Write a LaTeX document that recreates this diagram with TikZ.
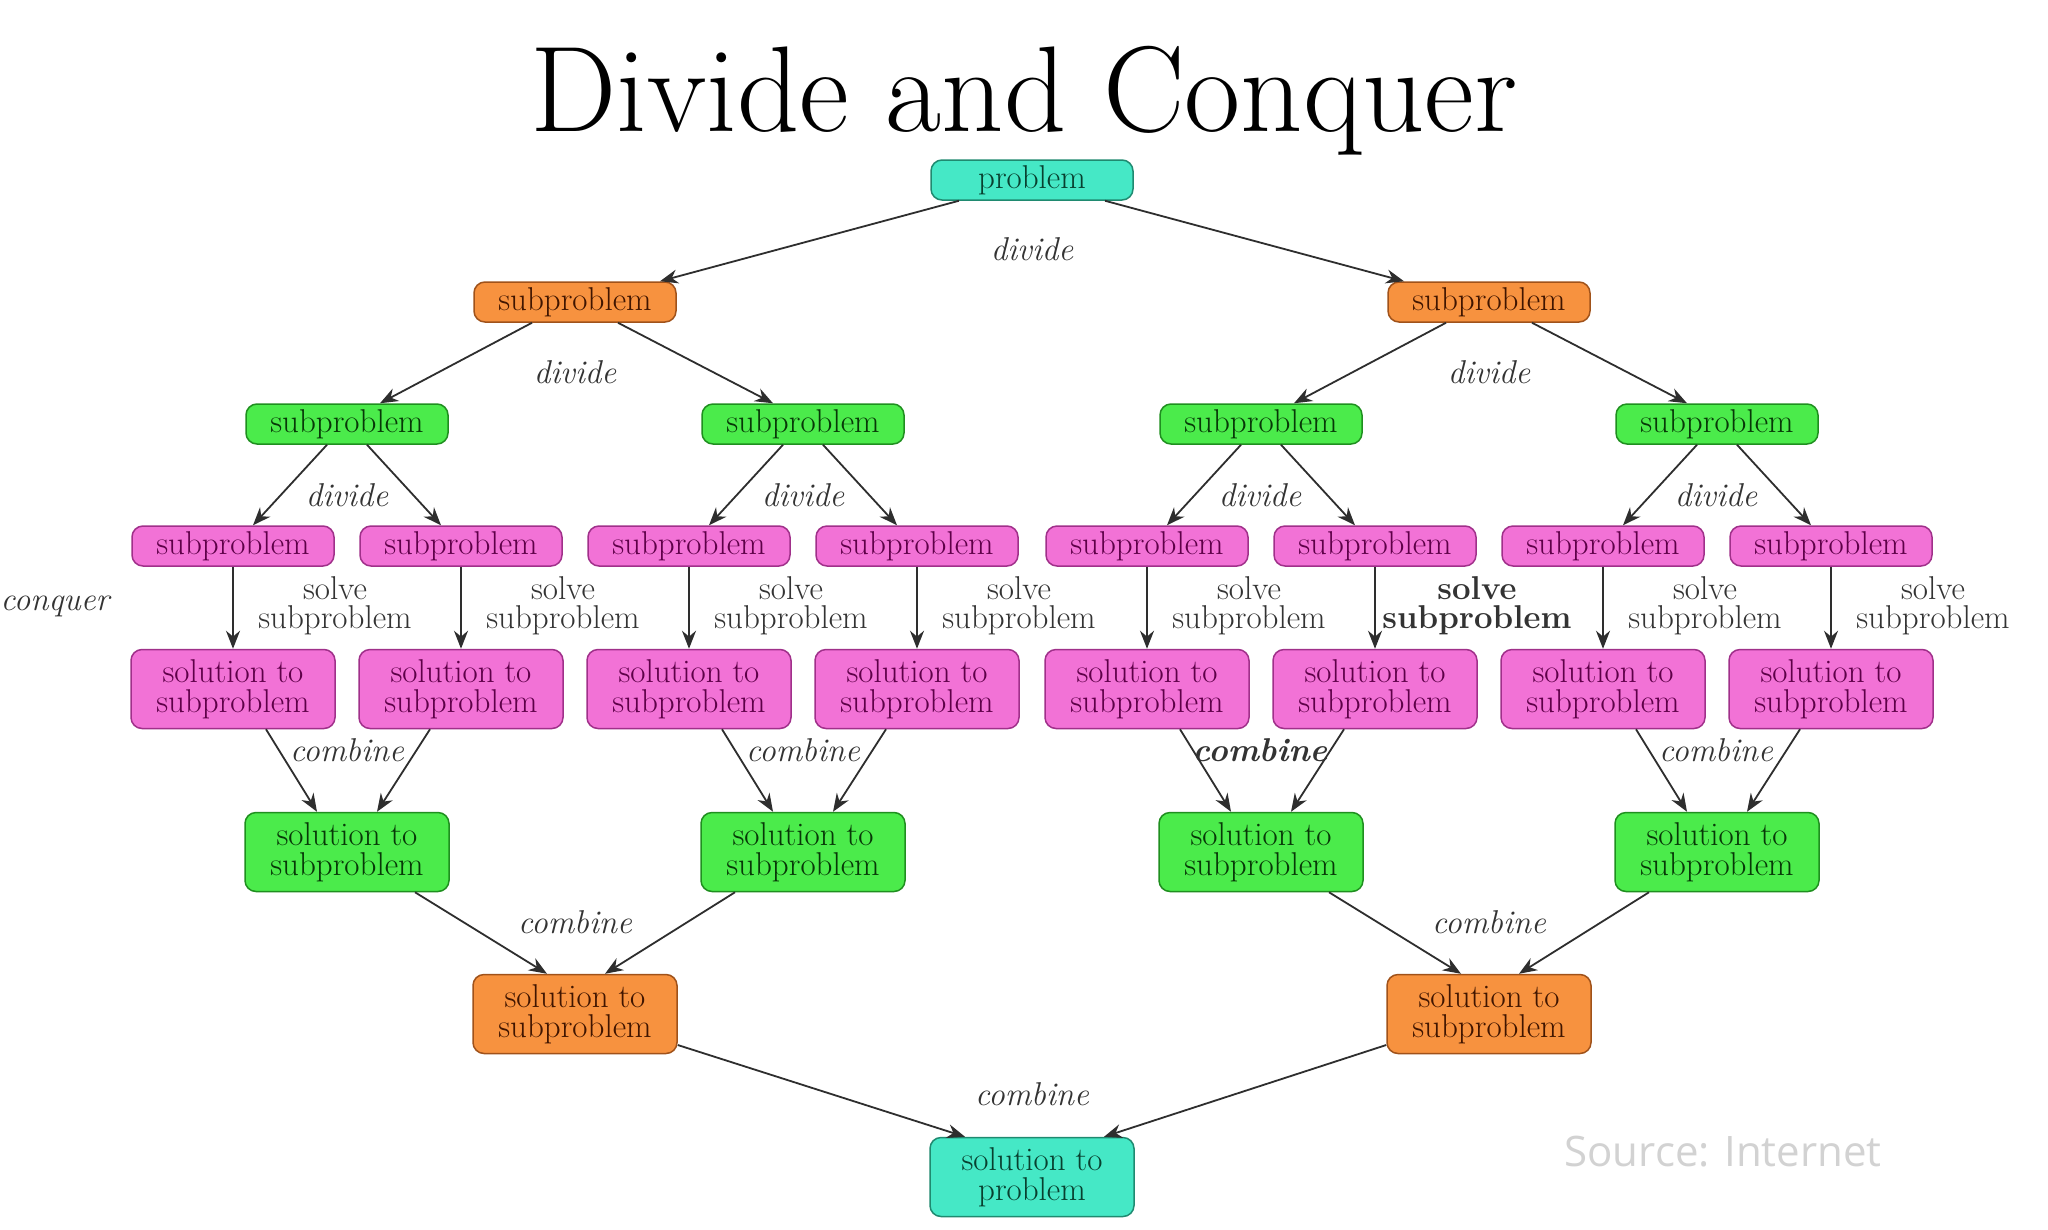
\documentclass[tikz,border=0pt]{standalone}
\usepackage{fontspec}
\newfontfamily\srcfont{Open Sans}
\usetikzlibrary{arrows.meta,calc}
\definecolor{tealF}{HTML}{45E8C6}
\definecolor{tealD}{HTML}{1F8A70}
\definecolor{tealT}{HTML}{08402F}
\definecolor{orgF}{HTML}{F7923F}
\definecolor{orgD}{HTML}{A0521A}
\definecolor{orgT}{HTML}{401500}
\definecolor{grnF}{HTML}{4BEB4B}
\definecolor{grnD}{HTML}{1F8F1F}
\definecolor{grnT}{HTML}{073807}
\definecolor{pnkF}{HTML}{F272D6}
\definecolor{pnkD}{HTML}{A0308A}
\definecolor{pnkT}{HTML}{5E0048}
\definecolor{arrC}{HTML}{2E2E2E}
\definecolor{labC}{HTML}{333333}
\definecolor{srcC}{HTML}{D2D2D2}
\begin{document}
\begin{tikzpicture}[x=1pt,y=-1pt,
  box/.style={draw, rounded corners=11pt, line width=1.5pt, align=center, inner sep=0pt,
    font=\fontsize{33}{30}\selectfont\addfontfeature{FakeBold=0.4}},
  one/.style={box, minimum width=202pt, minimum height=40pt},
  two/.style={box, minimum width=204pt, minimum height=79pt},
  tealbox/.style={fill=tealF, draw=tealD, text=tealT},
  orgbox/.style={fill=orgF, draw=orgD, text=orgT},
  grnbox/.style={fill=grnF, draw=grnD, text=grnT},
  pnkbox/.style={fill=pnkF, draw=pnkD, text=pnkT},
  arr/.style={draw=arrC, line width=1.8pt, -{Stealth[length=18pt,width=14pt]}},
  lab/.style={text=labC, font=\fontsize{33}{30}\selectfont\itshape},
  solvelab/.style={text=labC, align=center, font=\fontsize{33}{29}\selectfont}]
\useasboundingbox (0,0) rectangle (2048,1229);
\fill[white] (0,0) rectangle (2048,1229);

\node[anchor=base, font=\fontsize{122}{126}\selectfont\addfontfeature{FakeBold=0.3}] (title) at (1024,131) {Divide and Conquer};

% nodes
\node[one,tealbox] (p0) at (1032,180) {problem};
\node[one,orgbox] (o1) at (575,302) {subproblem};
\node[one,orgbox] (o2) at (1489,302) {subproblem};
\foreach \i/\x in {1/347,2/803,3/1261,4/1717}{
  \node[one,grnbox] (g\i) at (\x,424) {subproblem};
  \node[two,grnbox] (h\i) at (\x,852) {solution to\\subproblem};
}
\foreach \i/\x in {1/233,2/461,3/689,4/917,5/1147,6/1375,7/1603,8/1831}{
  \node[one,pnkbox] (k\i) at (\x,546) {subproblem};
  \node[two,pnkbox] (s\i) at (\x,689) {solution to\\subproblem};
}
\node[two,orgbox] (q1) at (575,1014) {solution to\\subproblem};
\node[two,orgbox] (q2) at (1489,1014) {solution to\\subproblem};
\node[two,tealbox] (f) at (1032,1177) {solution to\\problem};

% divide edges
\draw[arr] ($(p0.south)+(-73,0)$) -- ($(o1.north)+(85,0)$);
\draw[arr] ($(p0.south)+(73,0)$) -- ($(o2.north)+(-85,0)$);
\foreach \o/\a/\b in {o1/g1/g2, o2/g3/g4}{
  \draw[arr] ($(\o.south)+(-43,0)$) -- ($(\a.north)+(33,0)$);
  \draw[arr] ($(\o.south)+(43,0)$) -- ($(\b.north)+(-30,0)$);
}
\foreach \g/\a/\b in {g1/k1/k2, g2/k3/k4, g3/k5/k6, g4/k7/k8}{
  \draw[arr] ($(\g.south)+(-20,0)$) -- ($(\a.north)+(20,0)$);
  \draw[arr] ($(\g.south)+(20,0)$) -- ($(\b.north)+(-20,0)$);
}
% solve edges
\foreach \i in {1,...,8}{
  \draw[arr] (k\i.south) -- (s\i.north);
}
% combine edges
\foreach \h/\a/\b in {h1/s1/s2, h2/s3/s4, h3/s5/s6, h4/s7/s8}{
  \draw[arr] ($(\a.south)+(33,0)$) -- ($(\h.north)+(-30,0)$);
  \draw[arr] ($(\b.south)+(-31,0)$) -- ($(\h.north)+(30,0)$);
}
\foreach \q/\a/\b in {q1/h1/h2, q2/h3/h4}{
  \draw[arr] ($(\a.south)+(68,0)$) -- ($(\q.north)+(-28,0)$);
  \draw[arr] ($(\b.south)+(-68,0)$) -- ($(\q.north)+(30,0)$);
}
\draw[arr] ($(q1.east)+(0,31)$) -- ($(f.north)+(-67,0)$);
\draw[arr] ($(q2.west)+(0,31)$) -- ($(f.north)+(72,0)$);

% labels
\node[lab] (dv0) at (1032,249) {divide};
\node[lab] (dv1) at (575,372) {divide};
\node[lab] (dv2) at (1489,372) {divide};
\foreach \i/\x in {1/347,2/803,3/1260,4/1716}{
  \node[lab] (dd\i) at (\x,495) {divide};
}
\foreach \i/\x in {1/335,2/563,3/791,4/1019,5/1249,7/1705,8/1933}{
  \node[solvelab] (sv\i) at (\x,606) {solve\\subproblem};
}
\node[solvelab, font=\fontsize{33}{29}\selectfont\bfseries] (sv6) at (1477,606) {solve\\subproblem};
\node[lab] (conq) at (55,606) {conquer};
\node[lab] (cb1) at (347,750) {combine};
\node[lab] (cb2) at (803,750) {combine};
\node[lab, font=\fontsize{33}{30}\selectfont\itshape\bfseries] (cb3) at (1260,750) {combine};
\node[lab] (cb4) at (1716,750) {combine};
\node[lab] (cb5) at (575,922) {combine};
\node[lab] (cb6) at (1489,922) {combine};
\node[lab] (cb7) at (1032,1094) {combine};

\node[text=srcC, font=\srcfont\fontsize{42}{46}\selectfont] (src) at (1723,1152) {Source: Internet};
\end{tikzpicture}
\end{document}
